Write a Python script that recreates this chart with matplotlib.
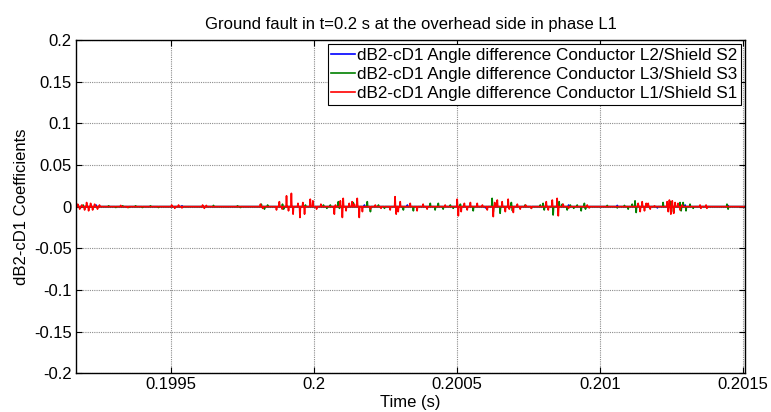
import numpy as np
import matplotlib.pyplot as plt

plt.rcParams['font.family'] = ['Liberation Sans', 'DejaVu Sans']

# spike events of each coefficient trace: time (s) and amplitude
t_l2 = [0.199240, 0.199540, 0.200177, 0.200327, 0.200600, 0.200890,
        0.201060, 0.201200, 0.201297, 0.201446]
a_l2 = [0.002, 0.001, 0.002, 0.002, -0.0015, 0.002,
        0.0015, -0.0015, 0.002, 0.0015]

t_l3 = [0.199195, 0.199200, 0.199284, 0.199309, 0.199333, 0.199354, 0.199378,
        0.199402, 0.199430, 0.199458, 0.199650, 0.199734, 0.199744, 0.199817,
        0.199828, 0.199839, 0.199891, 0.199895, 0.199971, 0.200034, 0.200046,
        0.200058, 0.200086, 0.200090, 0.200138, 0.200187, 0.200198, 0.200226,
        0.200247, 0.200313, 0.200348, 0.200407, 0.200424, 0.200435, 0.200452,
        0.200477, 0.200487, 0.200512, 0.200557, 0.200623, 0.200627, 0.200651,
        0.200690, 0.200694, 0.200738, 0.200760, 0.200791, 0.200801, 0.200805,
        0.200836, 0.200857, 0.200868, 0.200885, 0.200896, 0.200908, 0.200920,
        0.200934, 0.200945, 0.200949, 0.201025, 0.201060, 0.201085, 0.201098,
        0.201112, 0.201122, 0.201126, 0.201220, 0.201245, 0.201249, 0.201279,
        0.201283, 0.201290, 0.201300, 0.201314, 0.201325, 0.201443, 0.201447]
a_l3 = [0.002, -0.002, 0.001, -0.001, 0.001, -0.001, 0.001,
        -0.001, 0.001, -0.001, 0.0015, 0.001, -0.001, 0.003,
        -0.003, 0.002, 0.003, -0.003, 0.002, 0.002, -0.002,
        0.002, 0.006, -0.002, 0.005, 0.006, -0.006, 0.002,
        -0.002, -0.004, -0.005, 0.004, -0.004, 0.004, -0.003,
        0.002, -0.002, 0.003, -0.005, 0.010, -0.006, -0.008,
        0.005, -0.005, 0.002, -0.002, 0.002, 0.004, -0.004,
        -0.010, 0.006, 0.003, -0.004, 0.002, -0.002, 0.002,
        -0.005, 0.004, -0.003, 0.0015, -0.0015, 0.0015, -0.003,
        0.003, 0.007, -0.007, 0.005, 0.006, -0.006, 0.005,
        -0.005, 0.005, -0.005, 0.003, -0.002, 0.003, -0.003]

t_l1 = [0.199176, 0.199183, 0.199190, 0.199200, 0.199207, 0.199214, 0.199221,
        0.199228, 0.199235, 0.199245, 0.199252, 0.199326, 0.199350, 0.199504,
        0.199515, 0.199528, 0.199540, 0.199612, 0.199618, 0.199625, 0.199814,
        0.199822, 0.199870, 0.199880, 0.199890, 0.199905, 0.199912, 0.199922,
        0.199928, 0.199945, 0.199952, 0.199962, 0.199968, 0.199988, 0.199997,
        0.200010, 0.200025, 0.200072, 0.200076, 0.200093, 0.200100, 0.200103,
        0.200113, 0.200124, 0.200134, 0.200142, 0.200152, 0.200159, 0.200170,
        0.200198, 0.200215, 0.200235, 0.200267, 0.200284, 0.200288, 0.200295,
        0.200302, 0.200337, 0.200361, 0.200382, 0.200396, 0.200459, 0.200501,
        0.200505, 0.200515, 0.200526, 0.200536, 0.200547, 0.200571, 0.200589,
        0.200606, 0.200627, 0.200632, 0.200641, 0.200658, 0.200669, 0.200679,
        0.200683, 0.200697, 0.200711, 0.200721, 0.200740, 0.200760, 0.200812,
        0.200819, 0.200833, 0.200850, 0.200854, 0.200871, 0.200890, 0.200955,
        0.200962, 0.201133, 0.201140, 0.201147, 0.201155, 0.201161, 0.201168,
        0.201175, 0.201190, 0.201234, 0.201238, 0.201242, 0.201247, 0.201252,
        0.201257, 0.201262, 0.201272, 0.201279, 0.201286, 0.201349, 0.201352,
        0.201370, 0.201373]
a_l1 = [0.003, -0.003, 0.002, -0.004, 0.005, -0.005, 0.004,
        -0.004, 0.003, -0.003, 0.002, 0.0015, -0.001, 0.002,
        -0.002, 0.002, -0.0015, 0.002, -0.002, 0.0015, 0.003,
        -0.002, -0.004, 0.006, -0.003, 0.013, -0.005, 0.016,
        -0.009, 0.004, -0.013, 0.005, -0.009, 0.009, 0.007,
        -0.003, 0.003, -0.009, 0.002, 0.007, -0.013, 0.010,
        -0.005, 0.004, 0.006, 0.003, 0.010, -0.013, -0.006,
        -0.003, 0.002, -0.002, -0.004, 0.012, -0.009, -0.006,
        0.006, 0.004, -0.005, 0.003, -0.003, 0.002, 0.009,
        -0.011, -0.006, 0.004, -0.004, 0.005, 0.004, 0.002,
        -0.004, -0.012, 0.005, 0.008, 0.006, -0.006, 0.009,
        -0.003, -0.007, 0.003, -0.003, 0.002, -0.002, 0.006,
        -0.004, 0.008, 0.010, -0.011, 0.003, -0.002, 0.002,
        -0.0015, 0.004, -0.006, 0.006, -0.005, 0.004, 0.004,
        -0.003, 0.001, 0.006, -0.006, 0.008, -0.009, 0.007,
        -0.008, 0.005, 0.004, -0.004, 0.002, 0.002, -0.002,
        0.002, -0.002]

labels = ['dB2-cD1 Angle difference Conductor L2/Shield S2',
          'dB2-cD1 Angle difference Conductor L3/Shield S3',
          'dB2-cD1 Angle difference Conductor L1/Shield S1']

T0, T1 = 0.19917, 0.201506


def trace(times, amps, h=1.6e-6):
    # zero baseline with a narrow excursion at every event
    xs, ys = [T0], [0.0]
    for t, a in zip(times, amps):
        xs += [t - h, t, t + h]
        ys += [0.0, a, 0.0]
    xs.append(T1)
    ys.append(0.0)
    return xs, ys


fig = plt.figure(figsize=(7.71, 4.12), dpi=100)
ax = fig.add_axes([0.0986, 0.0939, 0.8677, 0.809])

for (t, a), c, lab in zip([(t_l2, a_l2), (t_l3, a_l3), (t_l1, a_l1)],
                          ['#0000ff', '#008000', '#ff0000'], labels):
    xs, ys = trace(t, a)
    ax.plot(xs, ys, color=c, lw=1.2, label=lab)

ax.set_xlim(T0, T1)
ax.set_ylim(-0.2, 0.2)
ax.set_xticks([0.1995, 0.2, 0.2005, 0.201, 0.2015])
ax.set_xticklabels(['0.1995', '0.2', '0.2005', '0.201', '0.2015'])
yt = np.arange(-0.2, 0.2001, 0.05)
ax.set_yticks(yt)
ax.set_yticklabels(['-0.2', '-0.15', '-0.1', '-0.05', '0', '0.05', '0.1', '0.15', '0.2'])
ax.tick_params(direction='in', length=4, width=0.8, top=True, right=True,
               labelsize=12, pad=3)
ax.grid(True, color='#8c8c8c', lw=0.8, ls=(0, (1, 1)))
for s in ax.spines.values():
    s.set_linewidth(1.0)

ax.set_title('Ground fault in t=0.2 s at the overhead side in phase L1', fontsize=12, pad=8)
ax.set_xlabel('Time (s)', fontsize=12, labelpad=2)
ax.set_ylabel('dB2-cD1 Coefficients', fontsize=12, labelpad=4)

leg = ax.legend(loc='upper right', bbox_to_anchor=(1, 1), borderaxespad=0.25,
                fontsize=12.3, handlelength=1.4, handletextpad=0.1,
                labelspacing=0.25, borderpad=0.2, fancybox=False, framealpha=1)
leg.get_frame().set_edgecolor('black')
leg.get_frame().set_linewidth(0.8)

fig.savefig('out.png', dpi=100)
